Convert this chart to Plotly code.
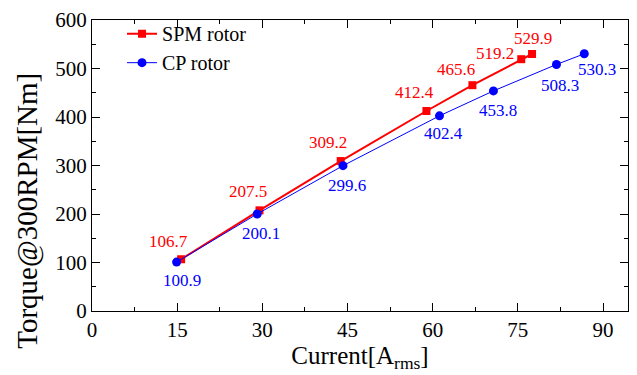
import plotly.graph_objects as go

# Data
spm_current = [15.7, 29.5, 43.8, 58.9, 67.0, 75.6, 77.5]
spm_torque = [106.7, 207.5, 309.2, 412.4, 465.6, 519.2, 529.9]
cp_current = [14.9, 29.1, 44.2, 61.2, 70.7, 81.8, 86.7]
cp_torque = [100.9, 200.1, 299.6, 402.4, 453.8, 508.3, 530.3]

x_ticks = [0, 15, 30, 45, 60, 75, 90]
y_ticks = [0, 100, 200, 300, 400, 500, 600]

RED = "#ff0000"
BLUE = "#0000ff"
FONT = "Liberation Serif, Times New Roman, serif"

# label offsets (pixels) - style only
spm_shift = [(-13, 18), (-12, 19), (-13, 19), (-12, 18), (-16, 16), (-26, 6), (1, 16)]
cp_shift = [(5, -18), (4, -20), (4, -20), (4, -18), (5, -20), (4, -21), (13, -16)]

fig = go.Figure()
fig.add_trace(go.Scatter(
    x=spm_current, y=spm_torque, mode="lines+markers", name="SPM rotor",
    line=dict(color=RED, width=2),
    marker=dict(symbol="square", size=8, color=RED),
))
fig.add_trace(go.Scatter(
    x=cp_current, y=cp_torque, mode="lines+markers", name="CP rotor",
    line=dict(color=BLUE, width=1),
    marker=dict(symbol="circle", size=9, color=BLUE),
))

for xv, yv, (dx, dy) in zip(spm_current, spm_torque, spm_shift):
    fig.add_annotation(x=xv, y=yv, text=f"{yv:.1f}", showarrow=False,
                       xshift=dx, yshift=dy, font=dict(family=FONT, size=17, color=RED))
for xv, yv, (dx, dy) in zip(cp_current, cp_torque, cp_shift):
    fig.add_annotation(x=xv, y=yv, text=f"{yv:.1f}", showarrow=False,
                       xshift=dx, yshift=dy, font=dict(family=FONT, size=17, color=BLUE))

# y-axis title as annotation
fig.add_annotation(xref="paper", yref="paper", x=-0.121, y=0.345,
                   xanchor="center", yanchor="middle", textangle=-90, showarrow=False,
                   text="Torque@300RPM[Nm]", font=dict(family=FONT, size=29, color="black"))

axis_common = dict(
    showgrid=False, zeroline=False, showline=True, linecolor="black", linewidth=1,
    mirror="ticks", ticks="inside", ticklen=8, tickcolor="black", tickwidth=1,
    tickfont=dict(family=FONT, size=21, color="black"),
)

fig.update_xaxes(
    range=[0, 94.4], tickvals=x_ticks, ticktext=[str(v) for v in x_ticks],
    minor=dict(dtick=7.5, tick0=0, ticks="inside", ticklen=4, tickcolor="black"),
    title=dict(text="Current[A<sub>rms</sub>]", font=dict(family=FONT, size=25, color="black"), standoff=0),
    **axis_common,
)
fig.update_yaxes(
    range=[0, 600], tickvals=y_ticks, ticktext=[str(v) for v in y_ticks],
    minor=dict(dtick=50, tick0=0, ticks="inside", ticklen=4, tickcolor="black"),
    **axis_common,
)

fig.update_layout(
    width=637, height=375,
    font=dict(family=FONT, color="black"),
    margin=dict(l=92, r=8, t=12, b=64),
    plot_bgcolor="white", paper_bgcolor="white",
    showlegend=True,
    legend=dict(x=0.056, y=1.02, xanchor="left", yanchor="top",
                bgcolor="rgba(0,0,0,0)", font=dict(family=FONT, size=20, color="black"),
                tracegroupgap=0),
)

fig.write_html("out.html")
